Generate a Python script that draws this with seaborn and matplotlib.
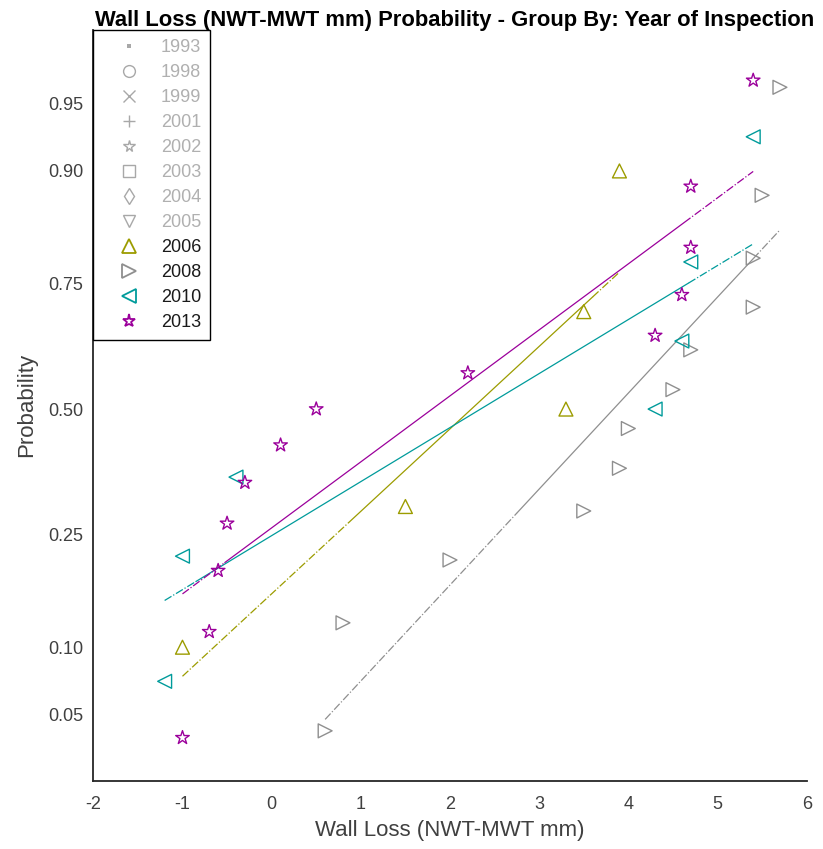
import numpy as np
import pandas as pd
import matplotlib
matplotlib.use("Agg")
import matplotlib.pyplot as plt
import seaborn as sns
from statistics import NormalDist
from matplotlib.lines import Line2D

# ---------------- data ----------------
years = ["2006", "2008", "2010", "2013"]
wall_loss_2006 = [-1.0, 1.5, 3.3, 3.5, 3.9]
wall_loss_2008 = [0.6, 0.8, 2.0, 3.5, 3.9, 4.0, 4.5, 4.7, 5.4, 5.4, 5.5, 5.7]
wall_loss_2010 = [-1.2, -1.0, -0.4, 4.3, 4.6, 4.7, 5.4]
wall_loss_2013 = [-1.0, -0.7, -0.6, -0.5, -0.3, 0.1, 0.5, 2.2, 4.3, 4.6, 4.7, 4.7, 5.4]

inactive_years = ["1993", "1998", "1999", "2001", "2002", "2003", "2004", "2005"]
inactive_markers = ["s", "o", "x", "+", "*", "s", "d", "v"]
active_markers = ["^", ">", "<", "*"]
year_colors = ["#9c9c00", "#8f8f8f", "#009b9b", "#9b009b"]

prob_ticks = [0.05, 0.10, 0.25, 0.50, 0.75, 0.90, 0.95]
prob_tick_labels = ["0.05", "0.10", "0.25", "0.50", "0.75", "0.90", "0.95"]
x_ticks = [-2, -1, 0, 1, 2, 3, 4, 5, 6]

title = "Wall Loss (NWT-MWT mm) Probability - Group By: Year of Inspection"
xlabel = "Wall Loss (NWT-MWT mm)"
ylabel = "Probability"

# ---------------- build normal-probability-plot table ----------------
nd = NormalDist()
groups = [wall_loss_2006, wall_loss_2008, wall_loss_2010, wall_loss_2013]
rows = []
for yr, vals in zip(years, groups):
    xs = sorted(vals)
    n = len(xs)
    for i, x in enumerate(xs):
        rows.append({"year": yr, "wall_loss": x, "z": nd.inv_cdf((i + 0.5) / n)})
df = pd.DataFrame(rows)


def prctile(vals, q):
    xs = np.sort(np.asarray(vals, float))
    n = len(xs)
    pos = 100.0 * (np.arange(1, n + 1) - 0.5) / n
    return float(np.interp(q, pos, xs))


# ---------------- figure ----------------
sns.set_style("white")
plt.rcParams["font.family"] = ["Liberation Sans", "DejaVu Sans"]
plt.rcParams["axes.unicode_minus"] = False

fig = plt.figure(figsize=(8.23, 8.49), dpi=100)
ax = fig.add_axes([93.3 / 823, 68.3 / 849, (806.7 - 93.3) / 823, (780.7 - 30) / 849])

for yr, m, c in zip(years, active_markers, year_colors):
    sub = df[df["year"] == yr]
    sns.scatterplot(data=sub, x="wall_loss", y="z", marker=m, s=100 if m != "*" else 105,
                    color=c, ax=ax, legend=False, linewidth=1.0, zorder=3)
    coll = ax.collections[-1]
    coll.set_facecolor("none")
    coll.set_edgecolor(c)

    # reference line: least-squares fit, solid between quartiles, dash-dot to extremes
    xv = sub["wall_loss"].to_numpy()
    zv = sub["z"].to_numpy()
    slope, intercept = np.polyfit(xv, zv, 1)
    q1, q3 = prctile(xv, 25), prctile(xv, 75)
    xmin, xmax = xv.min(), xv.max()
    for a, b, ls in [(xmin, q1, "-."), (q1, q3, "-"), (q3, xmax, "-.")]:
        seg = np.array([a, b])
        ax.plot(seg, slope * seg + intercept, color=c, linestyle=ls, linewidth=0.9, zorder=2)

# axes styling
ax.set_xlim(-2, 6)
ax.set_ylim(-2.0, 2.04)
ax.set_xticks(x_ticks)
ax.set_xticklabels([str(t) for t in x_ticks])
ax.set_yticks([nd.inv_cdf(p) for p in prob_ticks])
ax.set_yticklabels(prob_tick_labels)
for side in ["top", "right"]:
    ax.spines[side].set_visible(False)
for side in ["left", "bottom"]:
    ax.spines[side].set_color("#262626")
    ax.spines[side].set_linewidth(1.3)
ax.tick_params(axis="both", direction="in", length=5, width=1.2, color="#262626",
               labelsize=13, labelcolor="#404040")
ax.tick_params(axis="y", pad=7)
ax.tick_params(axis="x", pad=11)
ax.set_xlabel(xlabel, fontsize=16, color="#404040", labelpad=5)
ax.set_ylabel(ylabel, fontsize=16, color="#404040", labelpad=8)
ax.set_title(title, fontsize=15.8, fontweight="bold", color="black", pad=3, x=0.507)

# legend
handles = []
labels = []
for yr, m in zip(inactive_years, inactive_markers):
    if yr == "1993":
        h = Line2D([], [], linestyle="none", marker="s", color="#a8a8a8",
                   markerfacecolor="#a8a8a8", markeredgewidth=0, markersize=3.5)
    else:
        h = Line2D([], [], linestyle="none", marker=m, color="#a8a8a8",
                   markerfacecolor="none", markeredgewidth=1.0, markersize=8.5)
    handles.append(h)
    labels.append(yr)
for yr, m, c in zip(years, active_markers, year_colors):
    handles.append(Line2D([], [], linestyle="none", marker=m, color=c,
                          markerfacecolor="none", markeredgewidth=1.3, markersize=9.5))
    labels.append(yr)

leg = ax.legend(handles, labels, loc="upper left", bbox_to_anchor=(0, 1), borderaxespad=0,
                frameon=True, fancybox=False, edgecolor="black", framealpha=1,
                fontsize=13, handlelength=2.95, handletextpad=0.3, labelspacing=0.445,
                borderpad=0.5)
leg.get_frame().set_linewidth(1.0)
for t, yr in zip(leg.get_texts(), labels):
    t.set_color("#b0b0b0" if yr in inactive_years else "#1a1a1a")

fig.savefig("out.png", dpi=100)
